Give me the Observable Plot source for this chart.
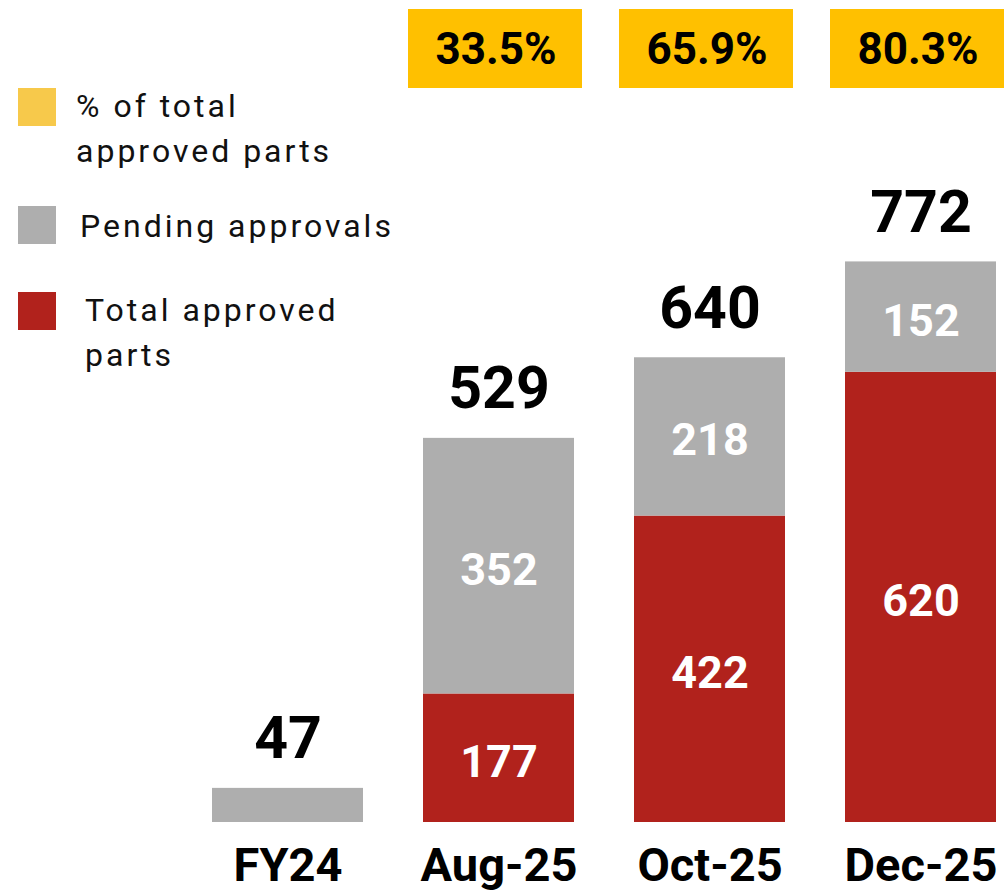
<!DOCTYPE html>
<html>
<head>
<meta charset="utf-8">
<script src="https://cdn.jsdelivr.net/npm/d3@7"></script>
<script src="https://cdn.jsdelivr.net/npm/@observablehq/plot@0.6"></script>
<style>
  html, body { margin: 0; padding: 0; background: #fff; }
  #wrap { position: relative; width: 1008px; height: 893px; font-family: Roboto, sans-serif; }
  #chart { position: absolute; left: 0; top: 0; }
  .lg-sw { position: absolute; width: 38px; height: 38px; }
  .lg-tx { position: absolute; font-size: 32px; line-height: 45px; letter-spacing: 3px; color: #111; white-space: nowrap; }
</style>
</head>
<body>
<div id="wrap">
  <div id="chart"></div>
  <div class="lg-sw" style="left:18px; top:88px; background:#F7C94B"></div>
  <div class="lg-tx" style="left:76px; top:84px">% of total<br>approved parts</div>
  <div class="lg-sw" style="left:18px; top:206px; background:#AEAEAE"></div>
  <div class="lg-tx" style="left:80px; top:204px">Pending approvals</div>
  <div class="lg-sw" style="left:18px; top:292px; background:#B1221C"></div>
  <div class="lg-tx" style="left:85px; top:288px">Total approved<br>parts</div>
</div>
<script>
const categories = ["FY24", "Aug-25", "Oct-25", "Dec-25"];
const approved = [0, 177, 422, 620];
const pending = [47, 352, 218, 152];
const totals = [47, 529, 640, 772];
const pctApproved = [null, 33.5, 65.9, 80.3];
const seriesNames = ["Total approved parts", "Pending approvals"];

const rows = [];
categories.forEach((c, i) => {
  rows.push({cat: c, series: seriesNames[0], value: approved[i]});
  rows.push({cat: c, series: seriesNames[1], value: pending[i]});
});
const totalRows = categories.map((c, i) => ({cat: c, total: totals[i]}));
const pctRows = categories.map((c, i) => ({cat: c, pct: pctApproved[i]})).filter(d => d.pct != null);
const labelRows = rows.filter(d => d.value > 0 && d.cat !== "FY24");

const chart = Plot.plot({
  width: 1008,
  height: 893,
  marginTop: 0,
  marginBottom: 71,
  marginLeft: 200,
  marginRight: 0,
  style: {fontFamily: "Roboto, sans-serif", background: "transparent"},
  x: {domain: categories, paddingInner: 0.282, paddingOuter: 0.05, align: 0.5, axis: null},
  y: {domain: [0, 1132], axis: null},
  color: {domain: seriesNames, range: ["#B1221C", "#AEAEAE"]},
  marks: [
    Plot.barY(rows, {x: "cat", y: "value", fill: "series", order: seriesNames}),
    Plot.text(labelRows, Plot.stackY({
      x: "cat", y: "value", z: "series", order: seriesNames,
      text: d => String(d.value), fill: "white", fontSize: 45, fontWeight: "bold", dy: 4
    })),
    Plot.text(totalRows, {
      x: "cat", y: "total", text: d => String(d.total), lineAnchor: "bottom",
      fontSize: 59, fontWeight: "bold", fill: "#000", dy: -30
    }),
    Plot.cell(pctRows, {
      x: "cat", fill: "#FFC000", insetTop: 9, insetBottom: 734, insetLeft: -15, insetRight: -8
    }),
    Plot.text(pctRows, {
      x: "cat", frameAnchor: "top", dy: 49, dx: -3, lineAnchor: "middle",
      text: d => d.pct.toFixed(1) + "%", fontSize: 44, fontWeight: "bold", fill: "#000"
    }),
    Plot.text(categories, {
      x: d => d, frameAnchor: "bottom", lineAnchor: "top", dy: 25,
      text: d => d, fontSize: 47, fontWeight: "bold", fill: "#000"
    })
  ]
});
document.getElementById("chart").appendChild(chart);
</script>
</body>
</html>
